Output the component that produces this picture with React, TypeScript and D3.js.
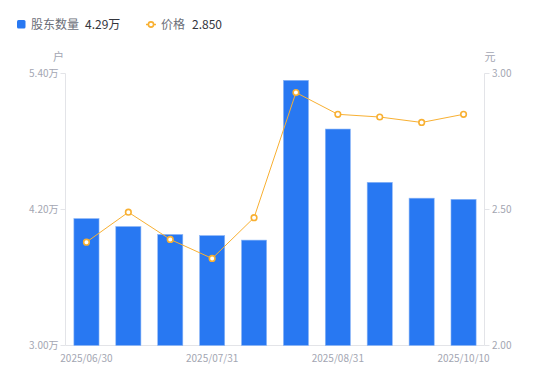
import React from "react";
import * as d3 from "d3";

const dates = ["2025/06/30", "2025/07/10", "2025/07/20", "2025/07/31", "2025/08/10", "2025/08/20", "2025/08/31", "2025/09/19", "2025/09/30", "2025/10/10"];
const holders = [4.12, 4.05, 3.98, 3.97, 3.93, 5.34, 4.91, 4.44, 4.30, 4.29];
const prices = [2.38, 2.49, 2.39, 2.32, 2.47, 2.93, 2.85, 2.84, 2.82, 2.85];
const xTickLabels = ["2025/06/30", "2025/07/31", "2025/08/31", "2025/10/10"];
const leftTicks = [3.0, 4.2, 5.4];
const rightTicks = [2.0, 2.5, 3.0];

const W = 550, H = 381;
const left = 65.5, right = 484.5, top = 73.5, bottom = 345.5;
const BAR = "#2878f2";
const LINE = "#f8b032";
const AXIS = "#e3e4e8";
const LABEL = "#a3a6b2";
const FONT = "'Noto Sans CJK SC', 'Noto Sans', sans-serif";

export default function App() {
  const x = d3.scaleBand<string>().domain(dates).range([left, right]).paddingInner(0.4).paddingOuter(0.2);
  const xc = (d: string) => (x(d) as number) + x.bandwidth() / 2;
  const yL = d3.scaleLinear().domain([3.0, 5.4]).range([bottom, top]);
  const yR = d3.scaleLinear().domain([2.0, 3.0]).range([bottom, top]);
  const line = d3.line<number>().x((_, i) => xc(dates[i])).y((p) => yR(p));

  return (
    <svg width={W} height={H} style={{ position: "absolute", left: 0, top: 0, fontFamily: FONT }}>
      <rect width={W} height={H} fill="#fff" />
      {/* legend */}
      <rect x={17} y={20} width={8.5} height={8.5} rx={1.5} fill={BAR} />
      <text x={31} y={29} fontSize={12} fill="#6b6e78">股东数量</text>
      <text x={85} y={29} fontSize={12} fill="#33353c">{holders[holders.length - 1].toFixed(2)}万</text>
      <line x1={146} x2={156} y1={24.5} y2={24.5} stroke={LINE} strokeWidth={1.5} />
      <circle cx={151} cy={24.5} r={2.6} fill="#fff" stroke={LINE} strokeWidth={1.6} />
      <text x={161} y={29} fontSize={12} fill="#6b6e78">价格</text>
      <text x={192} y={29} fontSize={12} fill="#33353c">{prices[prices.length - 1].toFixed(3)}</text>

      {/* unit labels */}
      <text x={58.5} y={61} fontSize={11} fill={LABEL} textAnchor="middle">户</text>
      <text x={490} y={61} fontSize={11} fill={LABEL} textAnchor="middle">元</text>

      {/* axes */}
      <line x1={left} x2={left} y1={top} y2={bottom} stroke={AXIS} />
      <line x1={right} x2={right} y1={top} y2={bottom} stroke={AXIS} />
      <line x1={left} x2={right} y1={bottom} y2={bottom} stroke={AXIS} />
      {leftTicks.map((t) => (
        <g key={"l" + t}>
          <line x1={left - 5} x2={left} y1={yL(t)} y2={yL(t)} stroke={AXIS} />
          <text x={left - 7} y={yL(t)} dy="0.35em" fontSize={10} fill={LABEL} textAnchor="end">{t.toFixed(2)}万</text>
        </g>
      ))}
      {rightTicks.map((t) => (
        <g key={"r" + t}>
          <line x1={right} x2={right + 5} y1={yR(t)} y2={yR(t)} stroke={AXIS} />
          <text x={right + 7.5} y={yR(t)} dy="0.35em" fontSize={10} fill={LABEL} textAnchor="start">{t.toFixed(2)}</text>
        </g>
      ))}
      {xTickLabels.map((d) => (
        <text key={d} x={xc(d)} y={361.5} fontSize={10} fill={LABEL} textAnchor="middle">{d}</text>
      ))}

      {/* bars */}
      {holders.map((v, i) => (
        <rect key={i} x={x(dates[i])} y={yL(v)} width={x.bandwidth()} height={bottom - yL(v)} fill={BAR} stroke="#8fb8f7" strokeWidth={0.6} />
      ))}

      {/* line */}
      <path d={line(prices) || ""} fill="none" stroke={LINE} strokeWidth={1} />
      {prices.map((p, i) => (
        <circle key={i} cx={xc(dates[i])} cy={yR(p)} r={2.8} fill="#fff" stroke={LINE} strokeWidth={1.6} />
      ))}
    </svg>
  );
}
